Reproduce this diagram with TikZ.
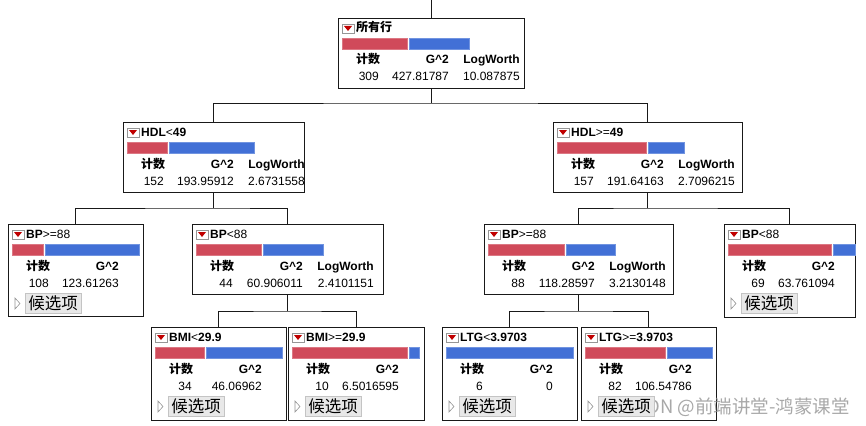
\documentclass[tikz,border=0pt]{standalone}
\usepackage{fontspec}
\setmainfont{Liberation Sans}
\newfontfamily\cjk{Noto Sans CJK SC}
\usetikzlibrary{calc}
\definecolor{barred}{RGB}{208,74,90}
\definecolor{barblue}{RGB}{66,112,214}
\definecolor{btnfill}{RGB}{232,232,232}
\definecolor{btnline}{RGB}{196,196,196}
\definecolor{icored}{RGB}{192,0,0}
\definecolor{icoline}{RGB}{150,150,150}
\tikzset{
 tbox/.style={draw=black!90, line width=0.9pt, fill=white, inner sep=0pt, outer sep=0pt},
 conn/.style={draw=black!90, line width=0.9pt},
 txt/.style={inner sep=0pt, font=\fontsize{12}{14}\selectfont, text height=8.5pt, text depth=2.5pt},
 btxt/.style={inner sep=0pt, font=\fontsize{12}{14}\selectfont\bfseries, text height=8.5pt, text depth=2.5pt},
 redbar/.style={fill=barred, draw=barred!75!white, line width=0.5pt},
 bluebar/.style={fill=barblue, draw=barblue!75!white, line width=0.5pt},
 wmark/.style={inner sep=0pt, font=\cjk\fontsize{18.5}{20}\selectfont, text=black!45, opacity=0.75},
}
% box with icon and title
\newcommand\tbx[6]{%
 \node[tbox, minimum width=#4pt, minimum height=#5pt, anchor=north west] (#1) at (#2,#3) {};
 \begin{scope}[shift={(#1.north west)}]
  \draw[icoline, fill=white, line width=0.5pt] (4,6) rectangle (16,15);
  \fill[icored] (6,8) -- (14,8) -- (10,13) -- cycle;
  \node[btxt, anchor=west] at (18,11) {#6};
 \end{scope}}
\newcommand\bars[2]{%
 \begin{scope}[shift={(#1.north west)}]
  \draw[redbar] (4.5,20) rectangle (#2,31.5);
  \draw[bluebar] (#2+2.5,20) rectangle (131,31.5);
 \end{scope}}
\newcommand\bluebar[1]{%
 \begin{scope}[shift={(#1.north west)}]
  \draw[bluebar] (4.5,20) rectangle (131,31.5);
 \end{scope}}
\newcommand\hdrA[1]{%
 \begin{scope}[shift={(#1.north west)}]
  \node[btxt, anchor=west] at (18,43) {\cjk\bfseries 计数};
  \node[btxt, anchor=east] at (111,43) {G\textasciicircum 2};
  \node[btxt, anchor=east] at (182,43) {LogWorth};
 \end{scope}}
\newcommand\hdrB[1]{%
 \begin{scope}[shift={(#1.north west)}]
  \node[btxt, anchor=west] at (18,43) {\cjk\bfseries 计数};
  \node[btxt, anchor=east] at (111,43) {G\textasciicircum 2};
 \end{scope}}
\newcommand\valsA[4]{%
 \begin{scope}[shift={(#1.north west)}]
  \node[txt, anchor=east] at (41,60) {#2};
  \node[txt, anchor=east] at (111,60) {#3};
  \node[txt, anchor=east] at (182,60) {#4};
 \end{scope}}
\newcommand\valsB[3]{%
 \begin{scope}[shift={(#1.north west)}]
  \node[txt, anchor=east] at (41,60) {#2};
  \node[txt, anchor=east] at (111,60) {#3};
 \end{scope}}
\newcommand\btn[1]{%
 \begin{scope}[shift={(#1.north west)}]
  \draw[icoline, line width=0.6pt, fill=white] (7,74) -- (12,79.5) -- (7,85) -- cycle;
  \draw[btnline, fill=btnfill, line width=0.6pt] (17,69) rectangle (73,89);
  \node[inner sep=0pt, font=\cjk\fontsize{16.5}{18}\selectfont] at (45,79) {候选项};
 \end{scope}}
\newcommand\opr[1]{{\mdseries #1}}
\begin{document}
\begin{tikzpicture}[x=1pt, y=-1pt]
\useasboundingbox[fill=white] (0,0) rectangle (866,425);
% node frames (invisible) first, so connectors can refer to them
\begin{scope}[opacity=0]
\node[tbox, minimum width=186pt, minimum height=70pt, anchor=north west] (root) at (338,18) {};
\node[tbox, minimum width=181pt, minimum height=70pt, anchor=north west] (hdlL) at (123,122) {};
\node[tbox, minimum width=189pt, minimum height=70pt, anchor=north west] (hdlR) at (553,122) {};
\node[tbox, minimum width=135pt, minimum height=92pt, anchor=north west] (bpLL) at (8,224) {};
\node[tbox, minimum width=191pt, minimum height=70pt, anchor=north west] (bpLR) at (192,224) {};
\node[tbox, minimum width=189pt, minimum height=70pt, anchor=north west] (bpRL) at (484,224) {};
\node[tbox, minimum width=131pt, minimum height=93pt, anchor=north west] (bpRR) at (724,224) {};
\node[tbox, minimum width=135pt, minimum height=93pt, anchor=north west] (bmiL) at (151,327) {};
\node[tbox, minimum width=136pt, minimum height=93pt, anchor=north west] (bmiR) at (288,327) {};
\node[tbox, minimum width=135pt, minimum height=93pt, anchor=north west] (ltgL) at (442,327) {};
\node[tbox, minimum width=135pt, minimum height=93pt, anchor=north west] (ltgR) at (581,327) {};
\end{scope}
% connectors
\coordinate (topend) at (root.north |- 0,0);
\coordinate (j1) at ($(root.south)+(0,15)$);
\coordinate (j2) at ($(hdlL.south)+(0,16)$);
\coordinate (j3) at ($(hdlR.south)+(0,16)$);
\coordinate (j4) at ($(bpLR.south)+(0,17)$);
\coordinate (j5) at ($(bpRL.south)+(0,17)$);
\draw[conn] (topend) -- (root.north);
\draw[conn] (root.south) -- (j1);
\draw[conn] (hdlL.north) |- (j1) -| (hdlR.north);
\draw[conn] (hdlL.south) -- (j2);
\draw[conn] (bpLL.north) |- (j2) -| (bpLR.north);
\draw[conn] (hdlR.south) -- (j3);
\draw[conn] (bpRL.north) |- (j3) -| (bpRR.north);
\draw[conn] (bpLR.south) -- (j4);
\draw[conn] (bmiL.north) |- (j4) -| (bmiR.north);
\draw[conn] (bpRL.south) -- (j5);
\draw[conn] (ltgL.north) |- (j5) -| (ltgR.north);
% visible boxes
\tbx{root}{338}{18}{186}{70}{\cjk\bfseries 所有行}
\bars{root}{69}\hdrA{root}\valsA{root}{309}{427.81787}{10.087875}
\tbx{hdlL}{123}{122}{181}{70}{HDL\opr{<}49}
\bars{hdlL}{44}\hdrA{hdlL}\valsA{hdlL}{152}{193.95912}{2.6731558}
\tbx{hdlR}{553}{122}{189}{70}{HDL\opr{>=}49}
\bars{hdlR}{93}\hdrA{hdlR}\valsA{hdlR}{157}{191.64163}{2.7096215}
\tbx{bpLL}{8}{224}{135}{92}{BP\opr{>=88}}
\bars{bpLL}{35}\hdrB{bpLL}\valsB{bpLL}{108}{123.61263}\btn{bpLL}
\tbx{bpLR}{192}{224}{191}{70}{BP\opr{<88}}
\bars{bpLR}{69}\hdrA{bpLR}\valsA{bpLR}{44}{60.906011}{2.4101151}
\tbx{bpRL}{484}{224}{189}{70}{BP\opr{>=88}}
\bars{bpRL}{80}\hdrA{bpRL}\valsA{bpRL}{88}{118.28597}{3.2130148}
\tbx{bpRR}{724}{224}{131}{93}{BP\opr{<88}}
\bars{bpRR}{107}\hdrB{bpRR}\valsB{bpRR}{69}{63.761094}\btn{bpRR}
\tbx{bmiL}{151}{327}{135}{93}{BMI\opr{<}29.9}
\bars{bmiL}{53}\hdrB{bmiL}\valsB{bmiL}{34}{46.06962}\btn{bmiL}
\tbx{bmiR}{288}{327}{136}{93}{BMI\opr{>=}29.9}
\bars{bmiR}{119}\hdrB{bmiR}\valsB{bmiR}{10}{6.5016595}\btn{bmiR}
\tbx{ltgL}{442}{327}{135}{93}{LTG\opr{<}3.9703}
\bluebar{ltgL}\hdrB{ltgL}\valsB{ltgL}{6}{0}\btn{ltgL}
\tbx{ltgR}{581}{327}{135}{93}{LTG\opr{>=}3.9703}
\bars{ltgR}{84}\hdrB{ltgR}\valsB{ltgR}{82}{106.54786}
% watermark (the button of the last box lies over its first letters)
\node[wmark, anchor=east] (wm) at (850,407) {CSDN @前端讲堂-鸿蒙课堂};
\btn{ltgR}
\end{tikzpicture}
\end{document}
